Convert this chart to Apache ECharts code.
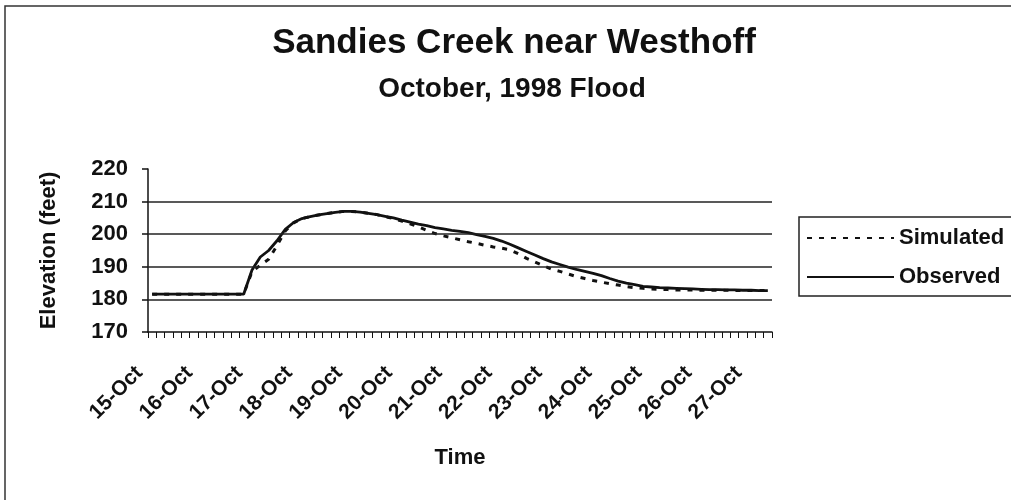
<!DOCTYPE html>
<html>
<head>
<meta charset="utf-8">
<script src="https://cdn.jsdelivr.net/npm/echarts@6/dist/echarts.min.js"></script>
<style>
  html, body { margin: 0; padding: 0; background: #fff; }
  #main { width: 1011px; height: 500px; }
</style>
</head>
<body>
<div id="main"></div>
<script>
// day labels shown on the axis, one reading every 4 hours
var dayLabels = ['15-Oct', '16-Oct', '17-Oct', '18-Oct', '19-Oct', '20-Oct', '21-Oct',
    '22-Oct', '23-Oct', '24-Oct', '25-Oct', '26-Oct', '27-Oct'];
var hours = ['00:00', '04:00', '08:00', '12:00', '16:00', '20:00'];

var times = [];
for (var d = 0; d < dayLabels.length; d++) {
    for (var h = 0; h < hours.length; h++) {
        if (times.length < 75) times.push(dayLabels[d] + ' ' + hours[h]);
    }
}

var simulated = [
    181.6, 181.6, 181.6, 181.6, 181.6, 181.6, 181.6, 181.6, 181.6, 181.6, 181.6, 181.6,
    188.5, 190.5, 192.3, 196.5, 201.0, 203.5, 204.8, 205.4, 205.9, 206.3, 206.7, 207.0,
    207.0, 206.8, 206.4, 206.0, 205.4, 204.8, 204.0, 203.2, 202.3, 201.2, 200.2, 199.5,
    198.9, 198.3, 197.7, 197.2, 196.6, 196.1, 195.7, 195.2, 194.0, 192.6, 191.5, 190.4,
    189.3, 188.6, 187.8, 187.0, 186.4, 185.8, 185.3, 184.8, 184.4, 183.9, 183.6, 183.4,
    183.2, 183.1, 183.0, 182.9, 182.9, 182.9, 182.8, 182.8, 182.8, 182.8, 182.7, 182.7,
    182.7, 182.7, 182.7
];

var observed = [
    181.6, 181.6, 181.6, 181.6, 181.6, 181.6, 181.6, 181.6, 181.6, 181.6, 181.6, 181.6,
    189.0, 193.0, 195.0, 198.0, 201.5, 203.6, 204.8, 205.4, 205.9, 206.3, 206.7, 207.0,
    207.0, 206.8, 206.4, 206.0, 205.5, 205.0, 204.3, 203.7, 203.1, 202.6, 202.0, 201.6,
    201.2, 200.9, 200.5, 199.9, 199.3, 198.7, 197.9, 196.9, 195.8, 194.7, 193.6, 192.5,
    191.5, 190.7, 189.9, 189.2, 188.6, 188.0, 187.3, 186.4, 185.6, 185.0, 184.5, 184.0,
    183.8, 183.6, 183.5, 183.4, 183.3, 183.2, 183.1, 183.0, 183.0, 182.9, 182.9, 182.8,
    182.8, 182.7, 182.7
];

var gridValues = [180, 190, 200, 210];

var font = 'Liberation Sans, Arial, sans-serif';
var myChart = echarts.init(document.getElementById('main'));

var option = {
    backgroundColor: '#fff',
    animation: false,
    textStyle: { fontFamily: font, color: '#111' },
    title: [{
        text: 'Sandies Creek near Westhoff',
        left: 514,
        top: 26,
        textAlign: 'center',
        padding: 0,
        textStyle: { fontSize: 35, fontWeight: 'bold', color: '#111', fontFamily: font }
    }, {
        text: 'October, 1998 Flood',
        left: 512,
        top: 75,
        textAlign: 'center',
        padding: 0,
        textStyle: { fontSize: 28, fontWeight: 'bold', color: '#111', fontFamily: font }
    }],
    legend: {
        orient: 'vertical',
        left: 799,
        top: 217,
        padding: [10, 20, 8, 7],
        itemWidth: 87,
        itemHeight: 22,
        itemGap: 17,
        borderColor: '#222',
        borderWidth: 1.5,
        itemStyle: { opacity: 0 },
        textStyle: { fontSize: 22, fontWeight: 'bold', color: '#111', fontFamily: font },
        data: ['Simulated', 'Observed']
    },
    graphic: [{
        type: 'rect',
        shape: { x: 5, y: 6, width: 1100, height: 600 },
        style: { fill: 'none', stroke: '#333', lineWidth: 1.5 },
        silent: true
    }],
    grid: { left: 148, right: 239, top: 169, bottom: 168 },
    xAxis: {
        type: 'category',
        data: times,
        boundaryGap: true,
        name: 'Time',
        nameLocation: 'middle',
        nameGap: 115,
        nameTextStyle: { fontSize: 22, fontWeight: 'bold', color: '#111', fontFamily: font },
        axisLine: { lineStyle: { color: '#111', width: 1.5 } },
        axisTick: { show: true, interval: 0, length: 6, lineStyle: { color: '#111', width: 1 } },
        axisLabel: {
            interval: 5,
            rotate: 45,
            margin: 25,
            padding: [0, 18, 0, 0],
            fontSize: 21,
            fontWeight: 'bold',
            color: '#111',
            fontFamily: font,
            formatter: function (v) { return v.split(' ')[0]; }
        },
        splitLine: { show: false }
    },
    yAxis: {
        type: 'value',
        min: 170,
        max: 220,
        interval: 10,
        name: 'Elevation (feet)',
        nameLocation: 'middle',
        nameGap: 88,
        nameTextStyle: { fontSize: 22, fontWeight: 'bold', color: '#111', fontFamily: font },
        axisLine: { show: true, lineStyle: { color: '#111', width: 1.5 } },
        axisTick: { show: true, length: 6, lineStyle: { color: '#111', width: 1.5 } },
        axisLabel: { margin: 20, fontSize: 22, fontWeight: 'bold', color: '#111', fontFamily: font },
        splitLine: { show: false }
    },
    series: [{
        name: 'Simulated',
        type: 'line',
        data: simulated,
        symbol: 'none',
        lineStyle: { color: '#111', width: 3, type: [5, 7] },
        itemStyle: { color: '#111' },
        markLine: {
            silent: true,
            symbol: ['none', 'none'],
            label: { show: false },
            lineStyle: { color: '#222', width: 1.5, type: 'solid' },
            data: gridValues.map(function (v) { return { yAxis: v }; })
        }
    }, {
        name: 'Observed',
        type: 'line',
        data: observed,
        symbol: 'none',
        lineStyle: { color: '#111', width: 2.8, type: 'solid' },
        itemStyle: { color: '#111' }
    }]
};

myChart.setOption(option);
</script>
</body>
</html>
